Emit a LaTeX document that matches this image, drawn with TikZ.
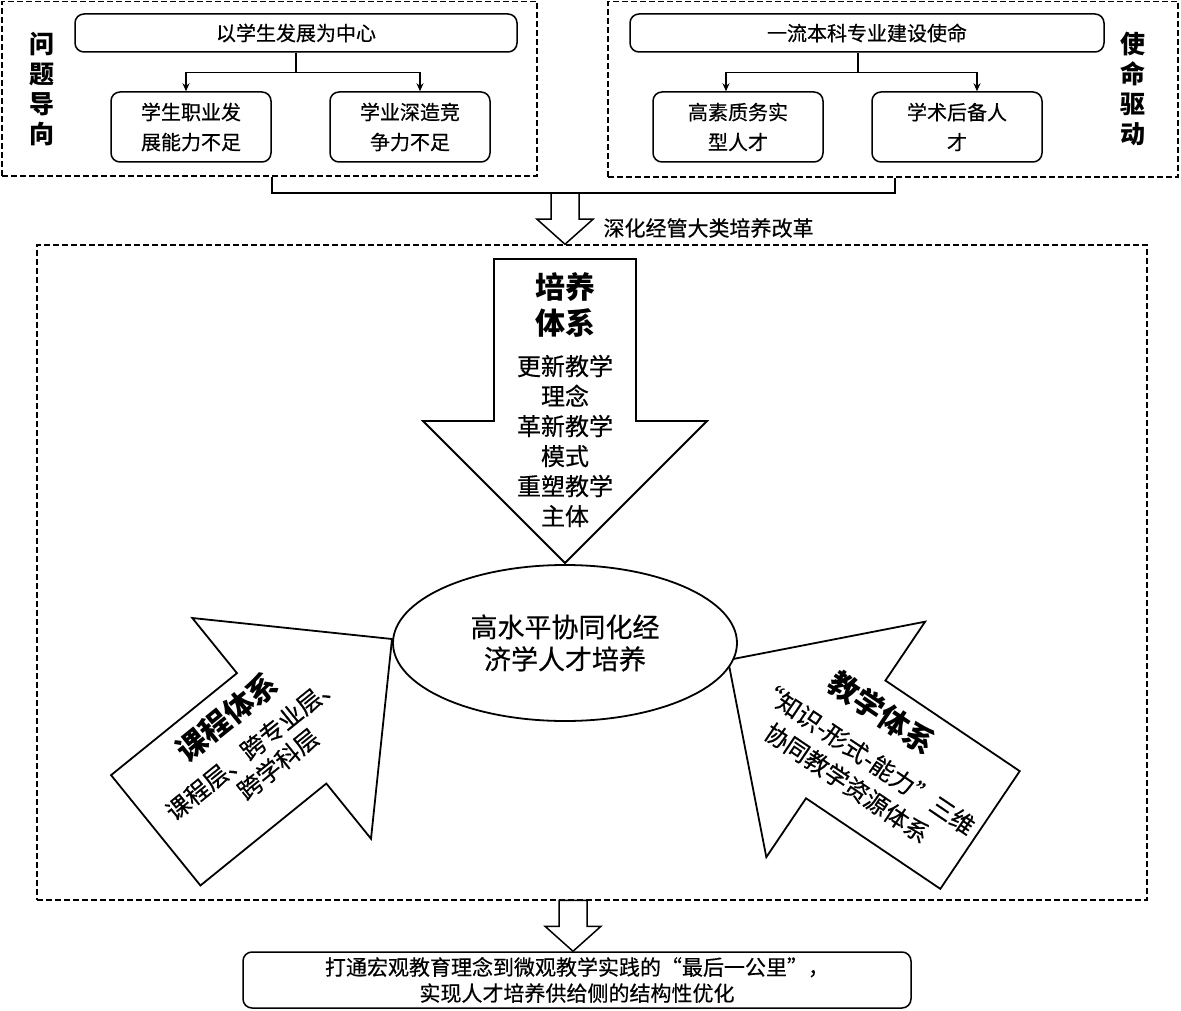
\documentclass[tikz,border=0pt]{standalone}
\usepackage{fontspec}
\setmainfont{Noto Sans CJK SC}[UprightFeatures={FakeBold=0.5}]
\usetikzlibrary{shapes.geometric,arrows.meta}

\tikzset{
  dashbox/.style={draw, line width=1.5pt, dash pattern=on 6pt off 3pt, inner sep=0pt},
  roundbox/.style={draw, line width=1.5pt, rounded corners=9pt, align=center, inner sep=0pt,
                   font=\fontsize{20}{30}\selectfont},
  sidetag/.style={align=center, font=\bfseries\fontsize{25}{30}\selectfont},
  branch/.style={line width=1.5pt, -{Stealth[length=8pt,width=7pt]}},
  armtitle/.style={font=\bfseries\fontsize{30}{36}\selectfont},
  armtext/.style={font=\fontsize{24}{30}\selectfont},
  bigarrow/.pic={
    \draw[line width=1.8pt, fill=white, line join=miter]
      (0,0) -- (-142,142) -- (-142,71) -- (-304,71) -- (-304,-71) -- (-142,-71) -- (-142,-142) -- cycle;
  },
  hollowarrow/.pic={
    \draw[line width=1.5pt, fill=white, line join=miter]
      (0,0) -- (-25,28) -- (-25,14) -- (-51,14) -- (-51,-14) -- (-25,-14) -- (-25,-28) -- cycle;
  },
}

\begin{document}
\begin{tikzpicture}[x=1pt, y=-1pt]
  \useasboundingbox (0,0) rectangle (1181,1011);

  % outer frames
  \node[dashbox, minimum width=535, minimum height=174.5] (probL) at (269.5,88.75) {};
  \node[dashbox, minimum width=570, minimum height=175.5] (missR) at (893,89.25) {};
  \node[dashbox, minimum width=1110, minimum height=655] (reform) at (592,572.5) {};

  % problem side
  \begin{scope}[every node/.style={roundbox}]
    \node[minimum width=442, minimum height=38] (goalL) at (296,33) {以学生发展为中心};
    \node[minimum width=160, minimum height=70] (needA) at (191,127) {学生职业发\\展能力不足};
    \node[minimum width=160, minimum height=70] (needB) at (410,127) {学业深造竞\\争力不足};
    \node[minimum width=474, minimum height=38] (goalR) at (867,33) {一流本科专业建设使命};
    \node[minimum width=170, minimum height=70] (talentA) at (738,127) {高素质务实\\型人才};
    \node[minimum width=170, minimum height=70] (talentB) at (957,127) {学术后备人\\才};
  \end{scope}

  \node[sidetag] (tagL) at (42,89) {问\\题\\导\\向};
  \node[sidetag] (tagR) at (1133,89) {使\\命\\驱\\动};

  \draw[branch] (goalL.south) -- ++(0,20) -| ([xshift=-5pt]needA.north);
  \draw[branch] (goalL.south) -- ++(0,20) -| ([xshift=10pt]needB.north);
  \draw[branch] ([xshift=-9pt]goalR.south) -- ++(0,20) -| ([xshift=-12pt]talentA.north);
  \draw[branch] ([xshift=-9pt]goalR.south) -- ++(0,20) -| ([xshift=20pt]talentB.north);

  % merge into reform
  \coordinate (join) at (565,193);
  \coordinate (joinR) at (895,193);
  \draw[line width=1.5pt] (needA.east |- probL.south) |- (joinR) -- (joinR |- missR.south);
  \pic[rotate=-90] at (join |- reform.north) {hollowarrow};
  \node[anchor=west, font=\fontsize{21}{24}\selectfont] (reformlbl) at (600,228) {深化经管大类培养改革};

  % three systems
  \pic[rotate=-90] at (565,563) {bigarrow};
  \pic[rotate=39] at (392,639) {bigarrow};
  \pic[rotate=146] at (728,660) {bigarrow};

  \node[armtitle, align=center] (ptitle) at (565,305) {培养\\体系};
  \node[armtext, align=center] (pbody) at (565,441) {更新教学\\理念\\革新教学\\模式\\重塑教学\\主体};

  \node[armtitle, rotate=39, inner sep=1pt] (ctitle) at (227,717) {课程体系};
  \node[armtext, rotate=39, inner sep=1pt] (cline1) at (253,747) {课程层、跨专业层、};
  \node[armtext, rotate=39, inner sep=1pt] (cline2) at (278,764) {跨学科层};

  \node[armtitle, rotate=-34, inner sep=1pt] (ttitle) at (882,713) {教学体系};
  \node[armtext, rotate=-34, inner sep=1pt] (tline1) at (866,757) {“知识-形式-能力”三维};
  \node[armtext, rotate=-34, inner sep=1pt] (tline2) at (847,783) {协同教学资源体系};

  \node[ellipse, draw, line width=1.8pt, fill=white, minimum width=344, minimum height=156,
        align=center, font=\fontsize{27}{32}\selectfont] (core) at (565,643) {高水平协同化经\\济学人才培养};

  % outcome
  \node[roundbox, minimum width=668, minimum height=56, font=\fontsize{21}{26}\selectfont]
    (result) at (577,980) {打通宏观教育理念到微观教学实践的“最后一公里”，\\实现人才培养供给侧的结构性优化};
  \pic[rotate=-90] at ([xshift=-4pt]result.north) {hollowarrow};

\end{tikzpicture}
\end{document}
